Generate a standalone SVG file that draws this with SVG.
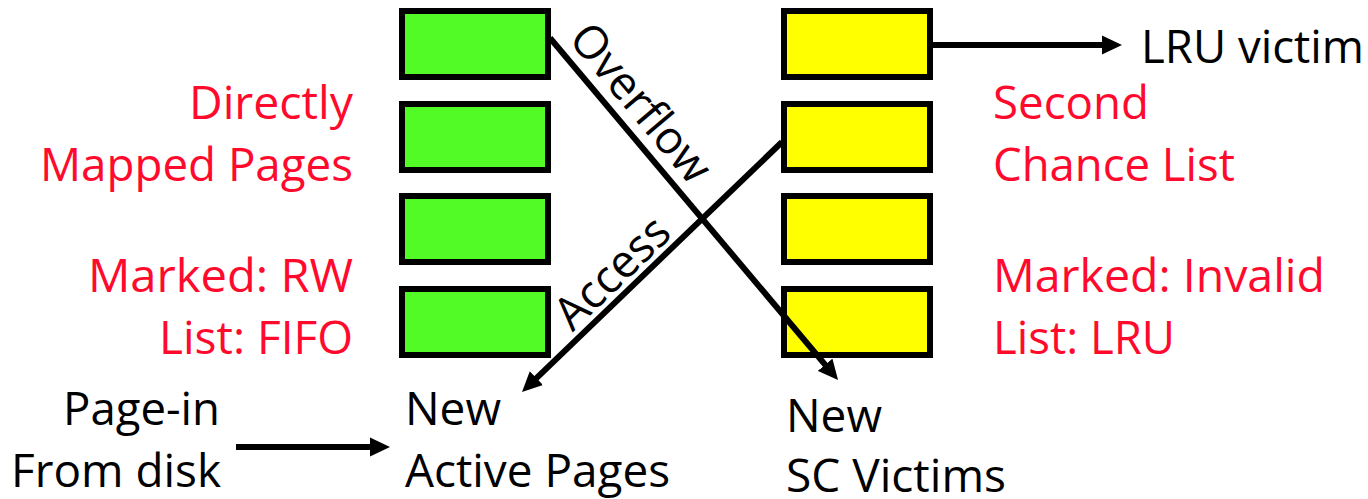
<svg xmlns="http://www.w3.org/2000/svg" width="1368" height="499" viewBox="0 0 1368 499">
  <style>
    text { font-family: "Open Sans", "Noto Sans", "Liberation Sans", sans-serif; font-size: 46px; }
    .red { fill: #FF0A2D; }
    .blk { fill: #000000; }
    .page-green { fill: #52FA26; stroke: #000; stroke-width: 6; }
    .page-yellow { fill: #FFFF00; stroke: #000; stroke-width: 6; }
    .conn { stroke: #000; stroke-width: 6; fill: none; marker-end: url(#head); }
  </style>
  <defs>
    <marker id="head" markerUnits="userSpaceOnUse" viewBox="0 0 20 20" markerWidth="20" markerHeight="20" refX="10" refY="10" orient="auto">
      <path d="M0,0.5 L20,10 L0,19.5 z" fill="#000"/>
    </marker>
  </defs>

  <!-- directly mapped page frames (FIFO) -->
  <g id="active-list">
    <rect id="active-1" class="page-green" x="402" y="11" width="146" height="66"/>
    <rect id="active-2" class="page-green" x="402" y="104" width="146" height="66"/>
    <rect id="active-3" class="page-green" x="402" y="196" width="146" height="66"/>
    <rect id="active-4" class="page-green" x="402" y="289" width="146" height="66"/>
  </g>

  <!-- second chance list frames (LRU) -->
  <g id="sc-list">
    <rect id="sc-1" class="page-yellow" x="784" y="11" width="146" height="66"/>
    <rect id="sc-2" class="page-yellow" x="784" y="104" width="146" height="66"/>
    <rect id="sc-3" class="page-yellow" x="784" y="196" width="146" height="66"/>
    <rect id="sc-4" class="page-yellow" x="784" y="289" width="146" height="66"/>
  </g>

  <g id="connectors">
    <line id="overflow" class="conn" x1="550" y1="38" x2="831.6" y2="372.4"/>
    <line id="access" class="conn" x1="782" y1="142" x2="529.2" y2="385.1"/>
    <line id="lru-out" class="conn" x1="933" y1="45" x2="1112" y2="45"/>
    <line id="page-in" class="conn" x1="236" y1="447" x2="380" y2="447"/>
    <text class="blk" transform="translate(629,113) rotate(49.9)" text-anchor="middle" textLength="192" lengthAdjust="spacingAndGlyphs">Overflow</text>
    <text class="blk" transform="translate(623,284) rotate(-43.9)" text-anchor="middle" textLength="140" lengthAdjust="spacingAndGlyphs">Access</text>
  </g>

  <g id="active-labels" text-anchor="end">
    <text class="red" x="353" y="119" textLength="164" lengthAdjust="spacingAndGlyphs">Directly</text>
    <text class="red" x="353" y="181" textLength="313" lengthAdjust="spacingAndGlyphs">Mapped Pages</text>
    <text class="red" x="353" y="292" textLength="265" lengthAdjust="spacingAndGlyphs">Marked: RW</text>
    <text class="red" x="353" y="354" textLength="194" lengthAdjust="spacingAndGlyphs">List: FIFO</text>
  </g>

  <g id="sc-labels">
    <text class="red" x="993" y="119" textLength="156" lengthAdjust="spacingAndGlyphs">Second</text>
    <text class="red" x="993" y="181" textLength="242" lengthAdjust="spacingAndGlyphs">Chance List</text>
    <text class="red" x="993" y="292" textLength="332" lengthAdjust="spacingAndGlyphs">Marked: Invalid</text>
    <text class="red" x="993" y="354" textLength="182" lengthAdjust="spacingAndGlyphs">List: LRU</text>
  </g>

  <g id="lru-victim">
    <text class="blk" x="1141" y="63" textLength="223" lengthAdjust="spacingAndGlyphs">LRU victim</text>
  </g>

  <g id="page-in-source" text-anchor="end">
    <text class="blk" x="220" y="425" textLength="157" lengthAdjust="spacingAndGlyphs">Page-in</text>
    <text class="blk" x="221" y="487" textLength="210" lengthAdjust="spacingAndGlyphs">From disk</text>
  </g>

  <g id="new-active">
    <text class="blk" x="405" y="425" textLength="96" lengthAdjust="spacingAndGlyphs">New</text>
    <text class="blk" x="405" y="487" textLength="265" lengthAdjust="spacingAndGlyphs">Active Pages</text>
  </g>

  <g id="new-sc-victims">
    <text class="blk" x="786" y="432" textLength="96" lengthAdjust="spacingAndGlyphs">New</text>
    <text class="blk" x="786" y="492" textLength="220" lengthAdjust="spacingAndGlyphs">SC Victims</text>
  </g>
</svg>
